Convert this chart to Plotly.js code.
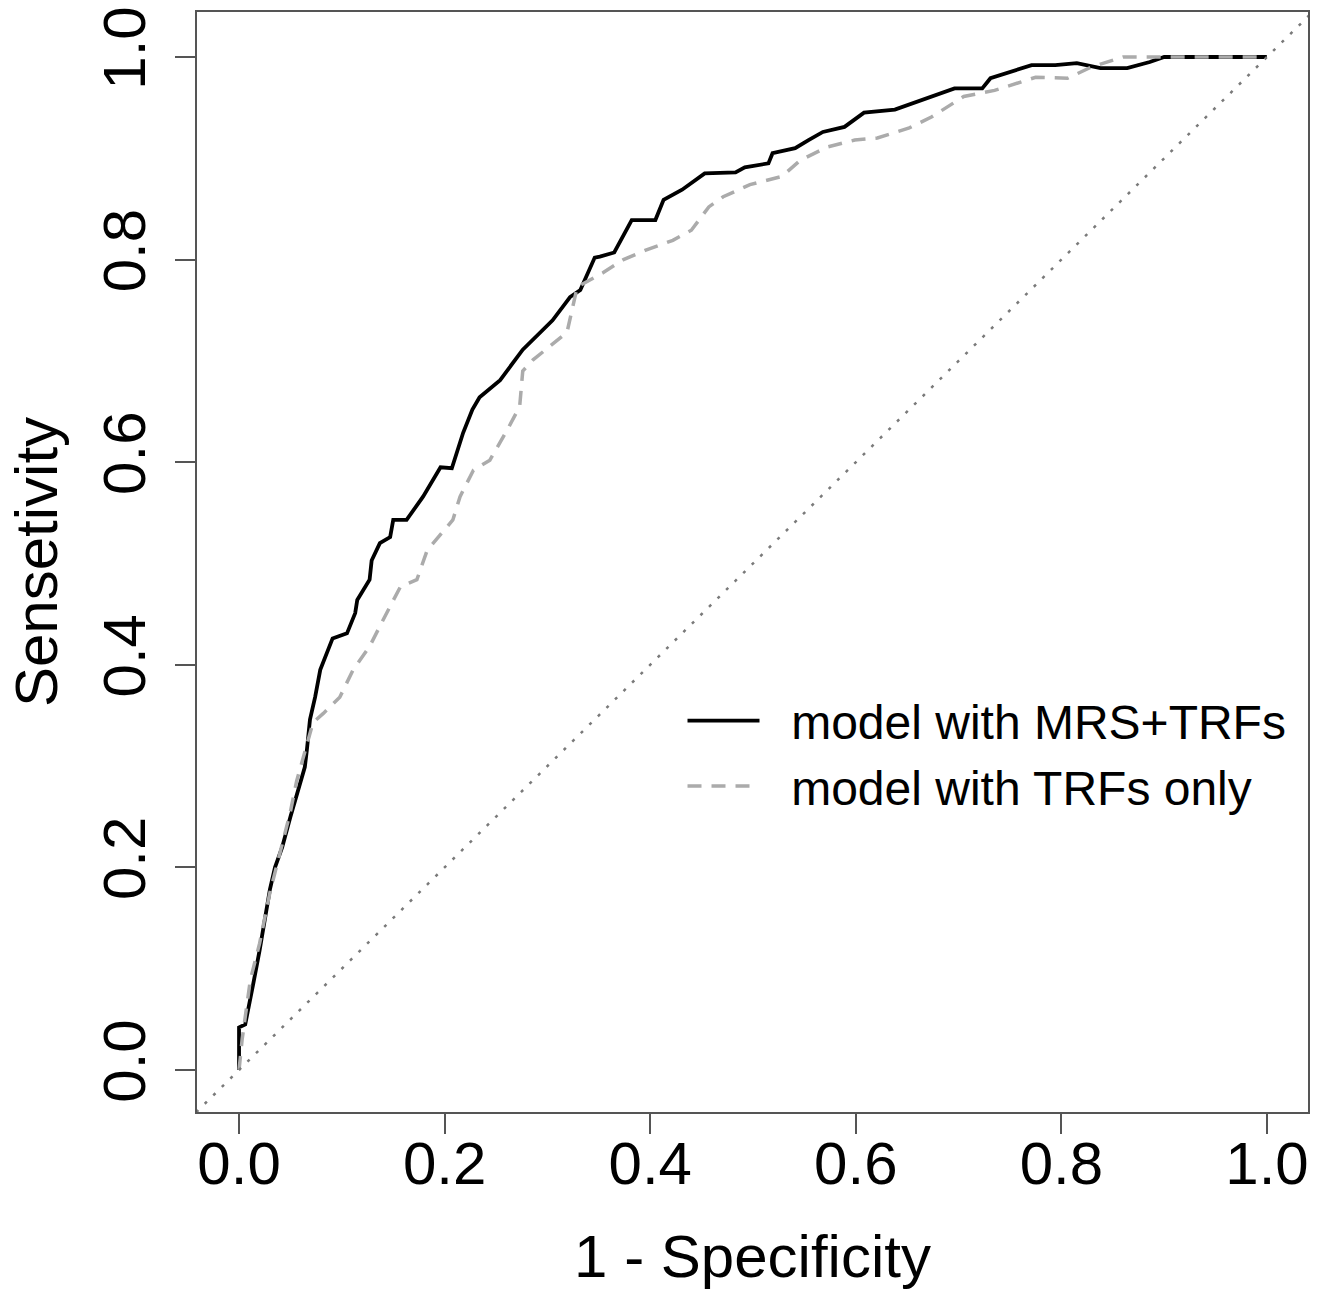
<!DOCTYPE html>
<html>
<head>
<meta charset="utf-8">
<script src="https://cdn.plot.ly/plotly-3.0.1.min.js"></script>
<style>
  html, body { margin: 0; padding: 0; background: #ffffff; }
  #chart { width: 1328px; height: 1290px; }
</style>
</head>
<body>
<div id="chart"></div>
<script>
// ---- Data ----
const seriesNames = ["model with MRS+TRFs", "model with TRFs only"];

// ROC curve: model with MRS+TRFs (1 - specificity, sensitivity)
const mrsFpr = [0, 0, 0.006, 0.009, 0.014, 0.020, 0.025, 0.030, 0.035, 0.042, 0.050, 0.057, 0.064, 0.066, 0.069, 0.074, 0.079, 0.091, 0.105, 0.113, 0.115, 0.127, 0.129, 0.137, 0.147, 0.150, 0.163, 0.179, 0.196, 0.207, 0.212, 0.218, 0.227, 0.234, 0.254, 0.276, 0.305, 0.322, 0.332, 0.346, 0.351, 0.365, 0.382, 0.405, 0.413, 0.431, 0.453, 0.483, 0.492, 0.515, 0.519, 0.541, 0.554, 0.568, 0.589, 0.608, 0.638, 0.661, 0.696, 0.723, 0.731, 0.771, 0.794, 0.815, 0.838, 0.864, 0.886, 0.900, 0.948, 0.988, 1.0];
const mrsTpr = [0, 0.042, 0.045, 0.059, 0.086, 0.118, 0.151, 0.178, 0.200, 0.220, 0.250, 0.273, 0.299, 0.316, 0.346, 0.368, 0.395, 0.426, 0.431, 0.451, 0.464, 0.484, 0.503, 0.520, 0.526, 0.543, 0.543, 0.566, 0.595, 0.594, 0.609, 0.629, 0.652, 0.664, 0.681, 0.711, 0.740, 0.763, 0.770, 0.802, 0.803, 0.807, 0.839, 0.839, 0.859, 0.869, 0.885, 0.886, 0.891, 0.895, 0.905, 0.910, 0.918, 0.926, 0.931, 0.945, 0.948, 0.956, 0.969, 0.969, 0.979, 0.992, 0.992, 0.994, 0.989, 0.989, 0.995, 1.0, 1.0, 1.0, 1.0];

// ROC curve: model with TRFs only
const trfFpr = [0, 0.003, 0.011, 0.020, 0.030, 0.040, 0.050, 0.056, 0.064, 0.072, 0.082, 0.098, 0.111, 0.127, 0.140, 0.157, 0.173, 0.183, 0.208, 0.215, 0.228, 0.244, 0.261, 0.273, 0.276, 0.286, 0.319, 0.329, 0.354, 0.374, 0.395, 0.422, 0.440, 0.457, 0.471, 0.497, 0.528, 0.546, 0.572, 0.599, 0.621, 0.652, 0.674, 0.705, 0.735, 0.775, 0.806, 0.829, 0.860, 0.900, 0.988, 1.0];
const trfTpr = [0, 0.030, 0.089, 0.125, 0.175, 0.215, 0.255, 0.285, 0.315, 0.343, 0.352, 0.368, 0.395, 0.418, 0.444, 0.477, 0.484, 0.513, 0.543, 0.566, 0.592, 0.602, 0.632, 0.655, 0.690, 0.701, 0.728, 0.773, 0.787, 0.800, 0.809, 0.819, 0.829, 0.852, 0.862, 0.874, 0.882, 0.898, 0.911, 0.918, 0.920, 0.930, 0.941, 0.961, 0.967, 0.980, 0.979, 0.990, 1.0, 1.0, 1.0, 1.0];

// Reference (chance) diagonal, clipped to the plot area
const refLine = [-0.05, 1.05];

const tickVals = [0, 0.2, 0.4, 0.6, 0.8, 1.0];
const tickText = ["0.0", "0.2", "0.4", "0.6", "0.8", "1.0"];
const xTitle = "1 - Specificity";
const yTitle = "Sensetivity";

// ---- Chart ----
const FONT = "Liberation Sans, Arial, Helvetica, sans-serif";
const GAP = "\u00A0\u00A0"; // spacing between legend line sample and label

const traces = [
  {
    x: mrsFpr, y: mrsTpr, type: "scatter", mode: "lines", name: GAP + seriesNames[0],
    line: { color: "#000000", width: 3.8 }
  },
  {
    x: trfFpr, y: trfTpr, type: "scatter", mode: "lines", name: GAP + seriesNames[1],
    line: { color: "#ababab", width: 3.5, dash: "14px,10px" }
  },
  {
    x: refLine, y: refLine, type: "scatter", mode: "lines", showlegend: false,
    line: { color: "#7a7a7a", width: 2.5, dash: "3px,9px" }, hoverinfo: "skip"
  }
];

const axisCommon = {
  tickmode: "array",
  tickvals: tickVals,
  ticktext: tickText,
  ticks: "outside",
  ticklen: 20,
  tickwidth: 2,
  tickcolor: "#555555",
  showline: true,
  mirror: true,
  linecolor: "#555555",
  linewidth: 2,
  showgrid: false,
  zeroline: false,
  tickfont: { family: FONT, size: 60, color: "#000000" }
};

const layout = {
  width: 1328,
  height: 1290,
  margin: { l: 197, r: 20, t: 12, b: 178 },
  paper_bgcolor: "#ffffff",
  plot_bgcolor: "#ffffff",
  showlegend: true,
  font: { family: FONT, color: "#000000" },
  xaxis: Object.assign({}, axisCommon, {
    range: [-0.0409, 1.0399],
    ticklabelstandoff: -22,
    title: { text: xTitle, font: { family: FONT, size: 60, color: "#000000" }, standoff: 42 },
    automargin: false
  }),
  yaxis: Object.assign({}, axisCommon, {
    range: [-0.0415, 1.0444],
    tickangle: -90,
    ticklabelstandoff: 6,
    title: { text: yTitle, font: { family: FONT, size: 60, color: "#000000" }, standoff: 14 },
    automargin: false
  }),
  legend: {
    x: 0.437, y: 0.39, xanchor: "left", yanchor: "top",
    bgcolor: "rgba(0,0,0,0)",
    borderwidth: 0,
    font: { family: FONT, size: 48, color: "#000000" },
    itemwidth: 72
  }
};

Plotly.newPlot("chart", traces, layout, { displayModeBar: false, staticPlot: true });
</script>
</body>
</html>
